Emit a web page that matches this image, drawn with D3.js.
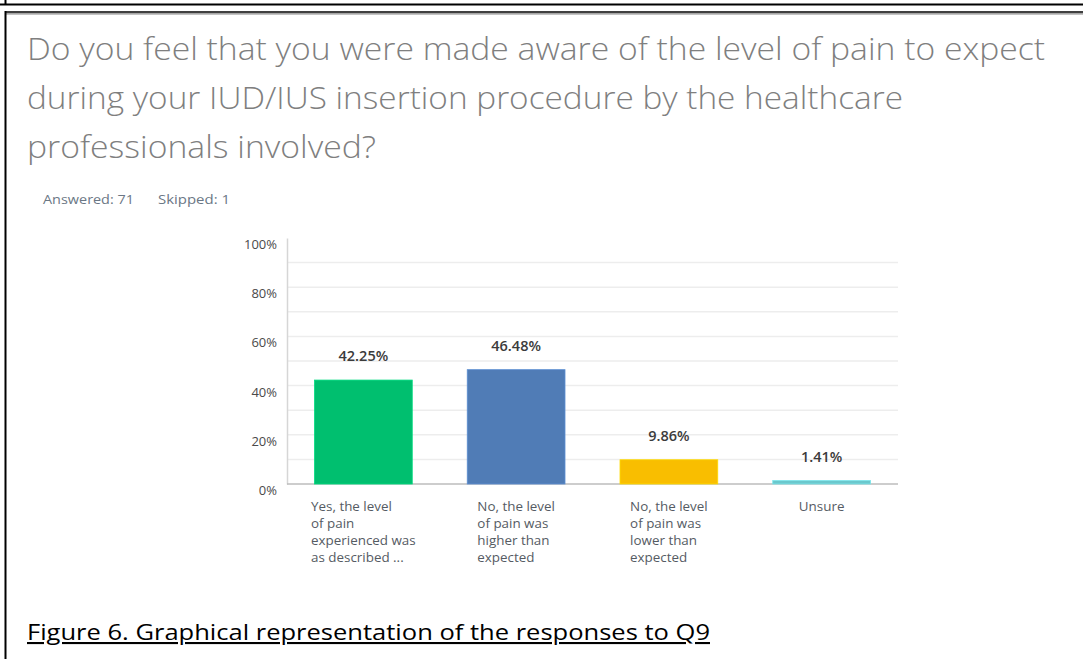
<!DOCTYPE html>
<html><head><meta charset="utf-8">
<script src="https://d3js.org/d3.v7.min.js"></script>
<style>
html,body{margin:0;padding:0;background:#fff;}
svg{display:block;}
</style></head>
<body>
<script>
const titleLines = [
  "Do you feel that you were made aware of the level of pain to expect",
  "during your IUD/IUS insertion procedure by the healthcare",
  "professionals involved?"
];
const categories = ["cat1","cat2","cat3","cat4"];
const categoryLabels = [
  ["Yes, the level","of pain","experienced was","as described ..."],
  ["No, the level","of pain was","higher than","expected"],
  ["No, the level","of pain was","lower than","expected"],
  ["Unsure"]
];
const values = [42.25, 46.48, 9.86, 1.41];
const valueLabels = ["42.25%","46.48%","9.86%","1.41%"];
const barColors = ["#00bf6f","#507cb6","#f9be00","#6bc8cd"];
const yTicks = [0,20,40,60,80,100];
const gridTicks = [10,20,30,40,50,60,70,80,90];
const caption = "Figure 6. Graphical representation of the responses to Q9";

const W = 1083, H = 659;
const svg = d3.select("body").append("svg").attr("width", W).attr("height", H);
const sm = "'Open Sans', sans-serif";

// frame lines
svg.append("line").attr("x1",0).attr("x2",W).attr("y1",4.5).attr("y2",4.5).attr("stroke","#000").attr("stroke-width",2);
svg.append("line").attr("x1",5.5).attr("x2",5.5).attr("y1",0).attr("y2",5).attr("stroke","#000").attr("stroke-width",2);
svg.append("line").attr("x1",5).attr("x2",W).attr("y1",12).attr("y2",12).attr("stroke","#000").attr("stroke-width",1.5);
svg.append("line").attr("x1",5).attr("x2",W).attr("y1",13.8).attr("y2",13.8).attr("stroke","#888").attr("stroke-width",1.2);
svg.append("line").attr("x1",5.5).attr("x2",5.5).attr("y1",11).attr("y2",H).attr("stroke","#000").attr("stroke-width",2);

// title
const titleX = 27, titleBase = [60, 109, 158], titleWidths = [1018, 876, 349];
titleLines.forEach((t,i)=>{
  svg.append("text").attr("x",titleX).attr("y",titleBase[i])
    .attr("font-family","'Open Sans', sans-serif").attr("font-weight",300)
    .attr("font-size",31).attr("fill","#7f7f7f")
    .attr("textLength",titleWidths[i]).attr("lengthAdjust","spacingAndGlyphs")
    .text(t);
});

// answered / skipped
svg.append("text").attr("x",43).attr("y",204).attr("font-family",sm)
  .attr("font-size",13).attr("fill","#6b7785").attr("textLength",91).attr("lengthAdjust","spacingAndGlyphs").text("Answered: 71");
svg.append("text").attr("x",158).attr("y",204).attr("font-family",sm)
  .attr("font-size",13).attr("fill","#6b7785").attr("textLength",72).attr("lengthAdjust","spacingAndGlyphs").text("Skipped: 1");

// chart
const x0 = 287, x1 = 898, yTop = 238, yBot = 484;
const x = d3.scaleBand().domain(categories).range([x0,x1]).paddingInner(0.36).paddingOuter(0.18);
const y = d3.scaleLinear().domain([0,100]).range([yBot,yTop]);

// gridlines
svg.append("g").selectAll("line").data(gridTicks).join("line")
  .attr("x1",x0).attr("x2",x1).attr("y1",d=>y(d)).attr("y2",d=>y(d))
  .attr("stroke","#ededed").attr("stroke-width",1.5);

// y axis
const yAxis = d3.axisLeft(y).tickValues(yTicks).tickFormat(d=>d+"%").tickSize(0).tickPadding(10);
const gy = svg.append("g").attr("transform",`translate(${x0},0)`).call(yAxis);
gy.select(".domain").attr("stroke","#d6d6d6").attr("stroke-width",1.5);
gy.selectAll("text").attr("font-family",sm).attr("font-size",13)
  .attr("fill","#4a4a4a").attr("dy","0.8em");

// baseline
svg.append("line").attr("x1",x0).attr("x2",x1).attr("y1",yBot).attr("y2",yBot)
  .attr("stroke","#bdbdbd").attr("stroke-width",1.5);

// bars
svg.append("g").selectAll("rect").data(values).join("rect")
  .attr("x",(d,i)=>x(categories[i])).attr("width",x.bandwidth())
  .attr("y",d=>y(d)).attr("height",d=>yBot-y(d))
  .attr("fill",(d,i)=>barColors[i])
  .attr("stroke",(d,i)=>d3.color(barColors[i]).brighter(0.4)).attr("stroke-width",0.8);

// value labels
svg.append("g").selectAll("text").data(values).join("text")
  .attr("x",(d,i)=>x(categories[i])+x.bandwidth()/2).attr("y",d=>y(d)-19)
  .attr("text-anchor","middle").attr("font-family",sm)
  .attr("font-size",14.5).attr("font-weight",600).attr("fill","#3b3b3b")
  .text((d,i)=>valueLabels[i]);

// category labels (left-aligned block centered on band)
categoryLabels.forEach((lines,i)=>{
  const g = svg.append("g");
  const t = g.append("text").attr("font-family",sm).attr("font-size",13.4)
    .attr("fill","#555b63");
  lines.forEach((l,j)=>{
    t.append("tspan").attr("x",0).attr("y",511 + j*17).text(l);
  });
  const bb = t.node().getBBox();
  const cx = x(categories[i]) + x.bandwidth()/2;
  g.attr("transform",`translate(${cx - bb.width/2},0)`);
});

// caption
svg.append("text").attr("x",27).attr("y",640).attr("font-family","'Open Sans', sans-serif")
  .attr("font-size",21).attr("fill","#000").attr("text-decoration","underline")
  .attr("textLength",683).attr("lengthAdjust","spacingAndGlyphs").text(caption);
</script>
</body></html>
